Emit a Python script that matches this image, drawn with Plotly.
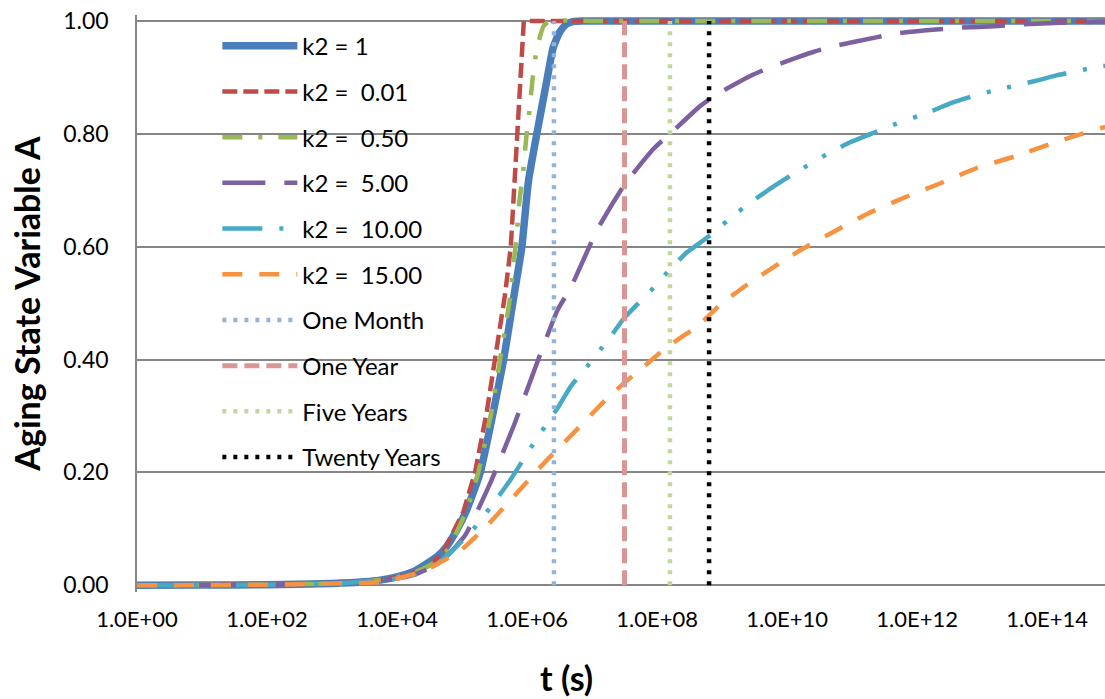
import plotly.graph_objects as go

# ---- data (log10 of t in seconds, aging state A) ----
k2_1_logt = [0, 1, 2, 3, 3.5, 3.74, 4.0, 4.25, 4.61, 4.76, 4.92, 5.07, 5.28, 5.48, 5.64, 5.78,
             5.92, 6.02, 6.15, 6.30, 6.40, 6.50, 6.60, 6.70, 6.85, 7.5, 9, 12, 15]
k2_1_A = [0, 0.0003, 0.001, 0.003, 0.006, 0.009, 0.015, 0.024, 0.05, 0.068, 0.098, 0.133, 0.2, 0.307,
          0.4, 0.5, 0.6, 0.715, 0.8, 0.892, 0.952, 0.98, 0.994, 0.999, 1.0, 1.0, 1.0, 1.0, 1.0]

k2_001_logt = [0, 1, 2, 3, 3.5, 4.0, 4.25, 4.5, 4.71, 5.02, 5.2, 5.38, 5.51, 5.66, 5.75, 5.81,
               5.85, 5.92, 5.95, 7, 10, 15]
k2_001_A = [0, 0.0003, 0.001, 0.003, 0.006, 0.014, 0.022, 0.035, 0.059, 0.13, 0.2, 0.307, 0.4,
            0.514, 0.6, 0.715, 0.8, 0.952, 1.0, 1.0, 1.0, 1.0]

k2_050_logt = [0, 1, 2, 3, 3.5, 4.0, 4.25, 4.5, 4.75, 5.06, 5.25, 5.44, 5.585, 5.74, 5.79, 5.84,
               5.88, 5.94, 5.985, 6.04, 6.09, 6.15, 6.25, 6.35, 7, 10, 15]
k2_050_A = [0, 0.0003, 0.001, 0.003, 0.006, 0.014, 0.022, 0.035, 0.058, 0.13, 0.2, 0.3, 0.4, 0.511,
            0.567, 0.62, 0.678, 0.733, 0.79, 0.845, 0.902, 0.95, 0.99, 1.0, 1.0, 1.0, 1.0]

k2_5_logt = [0, 1, 2, 3, 3.5, 4.0, 4.25, 4.5, 4.75, 5.05, 5.43, 5.80, 6.14, 6.47, 6.67, 7.08, 7.50,
             7.95, 8.20, 8.67, 8.92, 9.48, 9.79, 10.40, 10.71, 11.37, 11.68, 12.29, 12.65, 13.26,
             13.57, 14.85, 15]
k2_5_A = [0, 0.0003, 0.001, 0.003, 0.006, 0.012, 0.018, 0.03, 0.05, 0.089, 0.18, 0.284, 0.39, 0.488,
          0.527, 0.63, 0.71, 0.774, 0.80, 0.85, 0.87, 0.905, 0.92, 0.945, 0.955, 0.971, 0.978,
          0.985, 0.988, 0.991, 0.994, 0.999, 0.999]

k2_10_logt = [0, 1, 2, 3, 3.5, 4.0, 4.3, 4.66, 5.16, 5.54, 5.75, 6.11, 6.48, 6.67, 6.87, 7.28, 7.49,
              7.97, 8.20, 8.46, 8.78, 9.24, 9.52, 9.81, 10.11, 10.66, 10.97, 11.29, 11.61, 12.22,
              12.53, 12.86, 13.19, 13.83, 14.16, 14.49, 14.85, 15]
k2_10_A = [0, 0.0003, 0.001, 0.003, 0.006, 0.012, 0.02, 0.041, 0.0975, 0.154, 0.188, 0.253, 0.316,
           0.352, 0.38, 0.44, 0.473, 0.53, 0.56, 0.59, 0.617, 0.661, 0.685, 0.708, 0.73, 0.767,
           0.785, 0.80, 0.815, 0.840, 0.855, 0.867, 0.877, 0.894, 0.904, 0.912, 0.92, 0.921]

k2_15_logt = [0, 1, 2, 3, 3.78, 4.40, 4.97, 5.42, 5.84, 6.25, 6.69, 7.23, 7.49, 7.74, 8.15, 8.62,
              8.98, 9.39, 10.15, 10.66, 11.23, 11.76, 12.35, 12.91, 13.50, 14.08, 14.85, 15]
k2_15_A = [0, 0.0003, 0.001, 0.003, 0.006, 0.025, 0.061, 0.11, 0.163, 0.215, 0.267, 0.331, 0.358,
           0.382, 0.422, 0.459, 0.498, 0.533, 0.59, 0.623, 0.658, 0.685, 0.712, 0.739, 0.76,
           0.783, 0.811, 0.813]

marker_names = ["One Month", "One Year", "Five Years", "Twenty Years"]
marker_t = [2.592e6, 3.1536e7, 1.5768e8, 6.3072e8]
marker_A = [0.0, 1.0]

tick_vals = [1e0, 1e2, 1e4, 1e6, 1e8, 1e10, 1e12, 1e14]
tick_text = ["1.0E+00", "1.0E+02", "1.0E+04", "1.0E+06", "1.0E+08", "1.0E+10", "1.0E+12", "1.0E+14"]
y_ticks = [0, 0.2, 0.4, 0.6, 0.8, 1.0]

# ---- styling ----
series = [
    ("k2 = 1", k2_1_logt, k2_1_A, "#4A7EBB", 7.5, "solid", "spline"),
    ("k2 =\u00a0 0.01", k2_001_logt, k2_001_A, "#BE4B48", 4.5, "15px,6px", "linear"),
    ("k2 =\u00a0 0.50", k2_050_logt, k2_050_A, "#98B954", 4.5, "20px,16px,4px,16px", "spline"),
    ("k2 =\u00a0 5.00", k2_5_logt, k2_5_A, "#7D60A0", 4.5, "43px,19px", "spline"),
    ("k2 =\u00a0 10.00", k2_10_logt, k2_10_A, "#46AAC5", 4.5, "40px,17px,4px,17px,4px,17px", "spline"),
    ("k2 =\u00a0 15.00", k2_15_logt, k2_15_A, "#F69240", 4.5, "20px,17px", "spline"),
]
marker_styles = [
    ("#95B3D7", 4.5, "4px,7px"),
    ("#D99694", 5, "15px,7px"),
    ("#C3D69B", 4.5, "4px,7px"),
    ("#000000", 4.5, "4px,7px"),
]

fig = go.Figure()
for i, (name, lt, a, color, w, dash, shape) in enumerate(series):
    fig.add_trace(go.Scatter(
        x=[10 ** v for v in lt], y=a, mode="lines", name=name,
        legendgroup=f"g{i}",
        line=dict(color=color, width=w, dash=dash, shape=shape, smoothing=0.5),
    ))
for j, (name, t) in enumerate(zip(marker_names, marker_t)):
    color, w, dash = marker_styles[j]
    fig.add_trace(go.Scatter(
        x=[t, t], y=marker_A, mode="lines", name=name,
        legendgroup=f"m{j}",
        line=dict(color=color, width=w, dash=dash),
    ))

grid = "#868686"
fig.update_layout(
    width=1105, height=699,
    margin=dict(l=137, r=0, t=15, b=107),
    paper_bgcolor="white", plot_bgcolor="white",
    font=dict(family="Lato, Open Sans, sans-serif", color="#000000"),
    showlegend=True,
    legend=dict(
        x=0.083, y=0.985, xanchor="left", yanchor="top",
        bgcolor="rgba(0,0,0,0)", font=dict(size=24, family="Lato"),
        itemwidth=75, tracegroupgap=11.5, traceorder="grouped",
    ),
    xaxis=dict(
        type="log", range=[0, 14.89],
        tickvals=tick_vals, ticktext=tick_text,
        tickfont=dict(size=22, family="Lato"),
        showgrid=False, showline=False, zeroline=False, ticks="",
        ticklabelstandoff=12,
    ),
    yaxis=dict(
        range=[-0.012, 1.0106],
        tickvals=y_ticks, tickformat=".2f",
        tickfont=dict(size=23, family="Lato"),
        showgrid=True, gridcolor=grid, gridwidth=1.5,
        zeroline=True, zerolinecolor=grid, zerolinewidth=1.5,
        showline=True, linecolor=grid, linewidth=1.5,
        ticks="", ticklabelstandoff=22,
        title=dict(text="<b>Aging State Variable A</b>", font=dict(size=34, family="Lato"), standoff=12),
    ),
    annotations=[dict(
        text="<b>t (s)</b>", xref="paper", yref="paper", x=0.444, y=-0.148,
        xanchor="center", yanchor="middle", showarrow=False,
        font=dict(size=34, family="Lato", color="#000000"),
    )],
)

fig.write_html("out.html")
